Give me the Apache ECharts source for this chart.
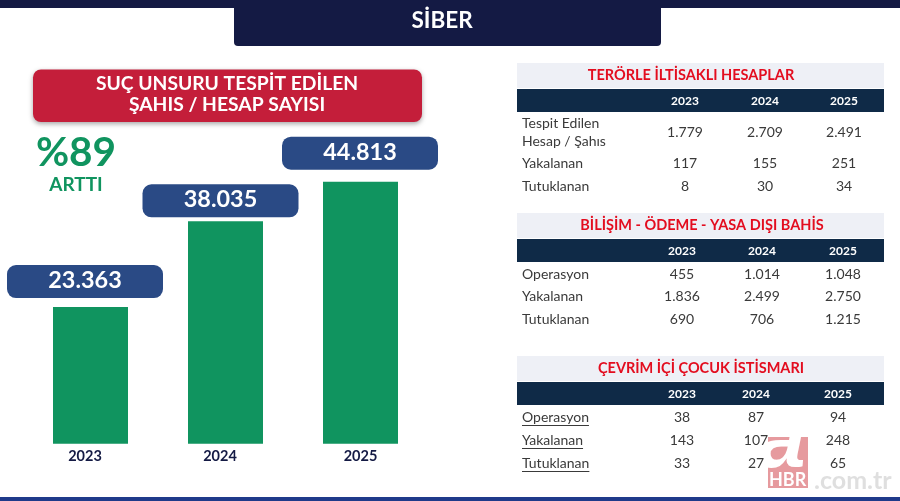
<!DOCTYPE html>
<html>
<head>
<meta charset="utf-8">
<title>SİBER</title>
<style>
html,body{margin:0;padding:0;background:#fff}
#main{width:900px;height:501px}
</style>
<script src="https://cdn.jsdelivr.net/npm/echarts@6/dist/echarts.min.js"></script>
</head>
<body>
<div id="main"></div>
<script>
//------------------- data --------------
var years = ['2023', '2024', '2025'];
var caseCounts = [23363, 38035, 44813];

var terrorLabels = [['Tespit Edilen', 'Hesap / Şahıs'], ['Yakalanan'], ['Tutuklanan']];
var terrorValues = [[1779, 2709, 2491], [117, 155, 251], [8, 30, 34]];

var itLabels = [['Operasyon'], ['Yakalanan'], ['Tutuklanan']];
var itValues = [[455, 1014, 1048], [1836, 2499, 2750], [690, 706, 1215]];

var childLabels = [['Operasyon'], ['Yakalanan'], ['Tutuklanan']];
var childValues = [[38, 87, 94], [143, 107, 248], [33, 27, 65]];

//------------------- helpers --------------
var FONT = 'Lato, "Open Sans", sans-serif';
var NAVY = '#141a44', GREEN = '#10945f', PILL = '#2a4a85', RED = '#e30d1f', HEAD = '#0f2a47', BODY = '#3a3a3a';

function dotted(n){
	return String(n).replace(/\B(?=(\d{3})+$)/g, '.');
}
function text(x, y, str, size, color, weight, align, z){
	return {
		type: 'text', z: z || 5, x: x, y: y,
		style: {
			text: str, fill: color, align: align || 'center', verticalAlign: 'middle',
			font: (weight || 'normal') + ' ' + size + 'px ' + FONT
		}
	};
}
function rect(x, y, w, h, fill, r, extra){
	var style = {fill: fill};
	for(var k in (extra || {})) style[k] = extra[k];
	return {type: 'rect', z: 2, shape: {x: x, y: y, width: w, height: h, r: r || 0}, style: style};
}
var measure = document.createElement('canvas').getContext('2d');
function textWidth(str, size){
	measure.font = size + 'px ' + FONT;
	return measure.measureText(str).width;
}

// one right hand table: grey title band, dark year row, then the rows
function table(cfg){
	var out = [];
	out.push(rect(517, cfg.top, 367, 25, '#eef0f6'));
	out.push(text(cfg.titleX, cfg.top + 12.5, cfg.title, 14.5, RED, 'bold'));
	out.push(rect(517, cfg.top + 26, 367, 23, HEAD));
	for(var c = 0; c < years.length; c++){
		out.push(text(cfg.cols[c], cfg.top + 38, years[c], 12, '#fff', 'bold'));
	}
	for(var i = 0; i < cfg.labels.length; i++){
		var lines = cfg.labels[i], y = cfg.rows[i];
		for(var l = 0; l < lines.length; l++){
			var ly = y + (lines.length > 1 ? (l - 0.5) * 18 : 0);
			out.push(text(522, ly, lines[l], 14, BODY, 'normal', 'left'));
			if(cfg.underline){
				out.push({type: 'line', z: 5, shape: {x1: 522, y1: ly + 8.5, x2: 522 + textWidth(lines[l], 14), y2: ly + 8.5},
					style: {stroke: BODY, lineWidth: 1}});
			}
		}
		for(c = 0; c < years.length; c++){
			out.push(text(cfg.cols[c], y, dotted(cfg.values[i][c]), 14, BODY));
		}
	}
	return out;
}

//------------------- page furniture --------------
var graphics = [
	rect(0, 0, 900, 8, NAVY),
	{type: 'rect', z: 2, shape: {x: 234, y: 0, width: 427, height: 46, r: [0, 0, 4, 4]}, style: {fill: NAVY}},
	text(442, 21, 'SİBER', 22.5, '#fff', 'bold'),
	rect(0, 497, 900, 4, '#1f3a8a'),
	rect(33, 69.5, 389, 52.5, '#c41e3a', 8, {shadowBlur: 5, shadowColor: 'rgba(0,0,0,0.35)', shadowOffsetY: 2}),
	text(227, 84, 'SUÇ UNSURU TESPİT EDİLEN', 19.3, '#fff', 'bold'),
	text(227, 105, 'ŞAHIS / HESAP SAYISI', 19.3, '#fff', 'bold'),
	text(76, 153, '%89', 40.5, GREEN, 'bold'),
	text(76, 185, 'ARTTI', 19, GREEN, 'bold')
];
graphics = graphics
	.concat(table({top: 63, title: 'TERÖRLE İLTİSAKLI HESAPLAR', titleX: 691, cols: [685, 765, 844],
		rows: [132, 163, 186], labels: terrorLabels, values: terrorValues}))
	.concat(table({top: 213, title: 'BİLİŞİM - ÖDEME - YASA DIŞI BAHİS', titleX: 702, cols: [682, 762, 843],
		rows: [274, 296, 319], labels: itLabels, values: itValues}))
	.concat(table({top: 356, title: 'ÇEVRİM İÇİ ÇOCUK İSTİSMARI', titleX: 701, cols: [682, 756, 838],
		rows: [417, 440, 463], labels: childLabels, values: childValues, underline: true}));

// watermark, kept under the table figures
graphics.push(rect(768, 437, 40, 51, 'rgba(222,120,125,0.75)'));
graphics.push(text(769, 480, 'HBR', 18, '#fff', 'bold', 'left', 4));
graphics.push(text(814, 481, '.com.tr', 25, 'rgba(215,215,215,0.8)', 'bold', 'left', 4));
graphics.push({type: 'text', z: 4, x: 782, y: 444, style: {
	text: 'a', fill: '#fff', align: 'center', verticalAlign: 'middle', font: 'italic bold 85px "Liberation Sans", sans-serif',
	shadowBlur: 4, shadowColor: 'rgba(120,120,120,0.7)', shadowOffsetX: 1, shadowOffsetY: 1
}});

//------------------- chart --------------
var pillShift = [[-5.5, -9], [-5, -4], [-0.5, -12]];
var yearShift = [11, 11, 0];

var option = {
	animation: false,
	backgroundColor: '#fff',
	textStyle: {fontFamily: FONT},
	grid: {left: 23, width: 405, top: 143.7, height: 300},
	xAxis: {
		type: 'category',
		data: years.map(function(y, i){
			return {value: y, textStyle: {padding: [0, yearShift[i], 0, 0]}};
		}),
		axisLine: {show: false},
		axisTick: {show: false},
		axisLabel: {color: NAVY, fontWeight: 'bold', fontSize: 14.5, fontFamily: FONT, margin: 5}
	},
	yAxis: {type: 'value', min: 0, max: 51300, show: false},
	graphic: {elements: graphics},
	series: [{
		type: 'bar',
		barWidth: 75,
		itemStyle: {color: GREEN},
		data: caseCounts.map(function(v, i){
			return {
				value: v,
				label: {
					show: true, position: 'top', offset: pillShift[i],
					distance: 0,
					formatter: function(p){ return dotted(p.value); },
					width: 156, height: 27, padding: [0, 0, 6, 0], align: 'center',
					backgroundColor: PILL, borderRadius: 9,
					color: '#fff', fontWeight: 'bold', fontSize: 23.4, fontFamily: FONT
				}
			};
		})
	}]
};
echarts.init(document.getElementById('main')).setOption(option);
</script>
</body>
</html>
